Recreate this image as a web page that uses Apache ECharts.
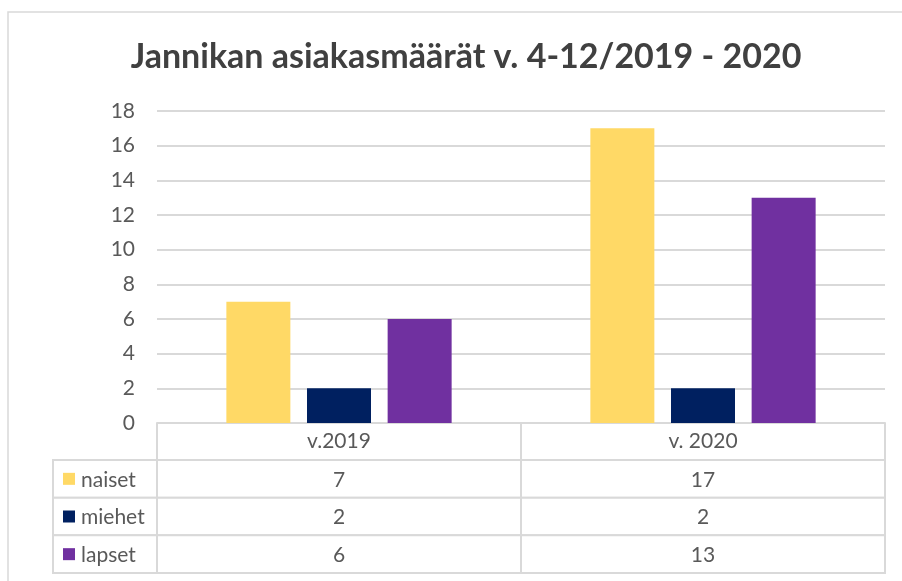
<html lang="fi">
<head>
	<meta charset="utf-8">
	<title>Jannikan asiakasmäärät</title>
	<script src="https://cdn.jsdelivr.net/npm/echarts@6/dist/echarts.min.js"></script>
	<style>
		body { margin: 0; background: #fff; }
		#chart { width: 902px; height: 581px; }
	</style>
</head>
<body>
	<div id="chart"></div>
	<script>
		// data
		var years = ['v.2019', 'v. 2020'];
		var seriesNames = ['naiset', 'miehet', 'lapset'];
		var naiset = [7, 17];
		var miehet = [2, 2];
		var lapset = [6, 13];
		var colors = ['#FFD966', '#002060', '#7030A0'];
		var yTicks = { min: 0, max: 18, interval: 2 };

		var font = 'Lato, "Open Sans", sans-serif';
		var fs = 21;
		var lineCol = '#d9d9d9';
		var textCol = '#595959';

		var values = [naiset, miehet, lapset];

		// cells for the table under the chart
		var tableCells = [];
		for (var r = 0; r < values.length; r++) {
			for (var c = 0; c < years.length; c++) {
				tableCells.push([c, r, values[r][c]]);
			}
		}
		var labelCells = seriesNames.map(function (n, i) { return [0, i, i]; });

		function cellRect(api) {
			var p = api.coord([api.value(0), api.value(1)]);
			var s = api.size([1, 1]);
			return { p: p, s: s };
		}

		var chart = echarts.init(document.getElementById('chart'), null, { renderer: 'canvas' });
		chart.setOption({
			animation: false,
			color: colors,
			title: {
				text: 'Jannikan asiakasmäärät v. 4-12/2019 - 2020',
				left: 461,
				top: 35,
				textAlign: 'center',
				textStyle: { fontFamily: font, fontSize: 34, fontWeight: 'bold', color: '#404040' }
			},
			graphic: [{
				type: 'rect',
				shape: { x: 8, y: 12, width: 1000, height: 700 },
				style: { fill: 'none', stroke: lineCol, lineWidth: 1.5 },
				z: -10
			}],
			grid: [
				{ left: 157, right: 17, top: 111, bottom: 158 },
				{ left: 157, right: 17, top: 460, height: 113 },
				{ left: 53, width: 104, top: 460, height: 113 }
			],
			xAxis: [
				{
					type: 'category', gridIndex: 0, data: years,
					axisLine: { lineStyle: { color: lineCol, width: 2 } },
					axisTick: { show: true, length: 37, lineStyle: { color: lineCol, width: 2 } },
					axisLabel: { margin: 8, fontFamily: font, fontSize: fs, color: textCol }
				},
				{ type: 'category', gridIndex: 1, data: years, show: false },
				{ type: 'category', gridIndex: 2, data: [''], show: false }
			],
			yAxis: [
				{
					type: 'value', gridIndex: 0,
					min: yTicks.min, max: yTicks.max, interval: yTicks.interval,
					axisLine: { show: false }, axisTick: { show: false },
					splitLine: { lineStyle: { color: lineCol, width: 2 } },
					axisLabel: { margin: 22, fontFamily: font, fontSize: fs, color: textCol }
				},
				{ type: 'category', gridIndex: 1, data: seriesNames, inverse: true, show: false },
				{ type: 'category', gridIndex: 2, data: seriesNames, inverse: true, show: false }
			],
			series: [
				{ name: seriesNames[0], type: 'bar', data: naiset, barWidth: 64, barGap: '26%' },
				{ name: seriesNames[1], type: 'bar', data: miehet, barWidth: 64, barGap: '26%' },
				{ name: seriesNames[2], type: 'bar', data: lapset, barWidth: 64, barGap: '26%' },
				{
					type: 'custom', xAxisIndex: 1, yAxisIndex: 1, data: tableCells,
					renderItem: function (params, api) {
						var r = cellRect(api);
						return {
							type: 'group', children: [
								{ type: 'rect', shape: { x: r.p[0] - r.s[0] / 2, y: r.p[1] - r.s[1] / 2, width: r.s[0], height: r.s[1] },
									style: { fill: '#fff', stroke: lineCol, lineWidth: 2 } },
								{ type: 'text', x: r.p[0], y: r.p[1] + 1,
									style: { text: String(api.value(2)), fill: textCol, font: fs + 'px ' + font, align: 'center', verticalAlign: 'middle' } }
							]
						};
					}
				},
				{
					type: 'custom', xAxisIndex: 2, yAxisIndex: 2, data: labelCells,
					renderItem: function (params, api) {
						var r = cellRect(api);
						var i = api.value(2);
						var x0 = r.p[0] - r.s[0] / 2;
						return {
							type: 'group', children: [
								{ type: 'rect', shape: { x: x0, y: r.p[1] - r.s[1] / 2, width: r.s[0], height: r.s[1] },
									style: { fill: '#fff', stroke: lineCol, lineWidth: 2 } },
								{ type: 'rect', shape: { x: x0 + 10, y: r.p[1] - 6, width: 12, height: 12 },
									style: { fill: colors[i] } },
								{ type: 'text', x: x0 + 28, y: r.p[1] + 1,
									style: { text: seriesNames[i], fill: textCol, font: fs + 'px ' + font, align: 'left', verticalAlign: 'middle' } }
							]
						};
					}
				}
			]
		});
	</script>
</body>
</html>
